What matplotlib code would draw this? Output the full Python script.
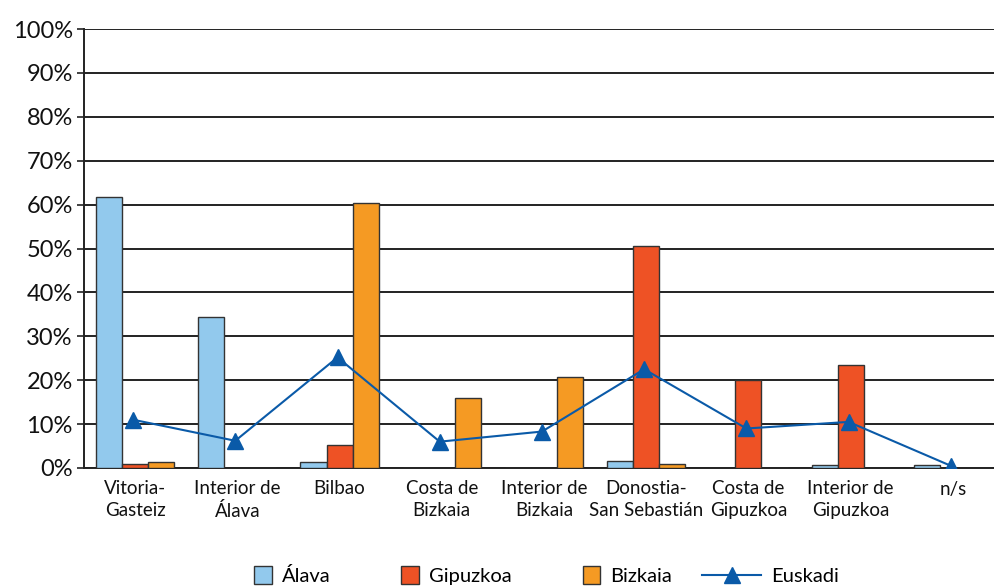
import matplotlib
matplotlib.use("Agg")
import matplotlib.pyplot as plt
import numpy as np
from matplotlib.patches import Rectangle
from matplotlib.lines import Line2D
from matplotlib.legend_handler import HandlerPatch

categories = ["Vitoria-\nGasteiz", "Interior de\nÁlava", "Bilbao", "Costa de\nBizkaia",
              "Interior de\nBizkaia", "Donostia-\nSan Sebastián", "Costa de\nGipuzkoa",
              "Interior de\nGipuzkoa", "n/s"]
alava = [61.7, 34.3, 1.4, 0.0, 0.0, 1.6, 0.0, 0.6, 0.6]
gipuzkoa = [0.8, 0.0, 5.2, 0.0, 0.0, 50.6, 20.0, 23.5, 0.0]
bizkaia = [1.4, 0.0, 60.3, 15.9, 20.8, 0.8, 0.0, 0.0, 0.0]
euskadi = [11.0, 6.2, 25.2, 6.0, 8.3, 22.5, 9.0, 10.5, 0.5]
yticks = [0, 10, 20, 30, 40, 50, 60, 70, 80, 90, 100]
ytick_labels = [f"{v}%" for v in yticks]

c_alava = "#92C9ED"
c_gip = "#EE5225"
c_biz = "#F59A23"
c_eus = "#0A5AA8"
edge = "#333333"

plt.rcParams['font.family'] = ['Lato', 'DejaVu Sans']

fig = plt.figure(figsize=(9.94, 5.86), dpi=100)
ax = fig.add_axes([84/994, 1-468/586, (1004-84)/994, (468-29)/586])

x = np.arange(len(categories))
w = 0.255
kw = dict(edgecolor=edge, linewidth=1.0, zorder=3)
ax.bar(x - w, alava, w, color=c_alava, label="Álava", **kw)
ax.bar(x, gipuzkoa, w, color=c_gip, label="Gipuzkoa", **kw)
ax.bar(x + w, bizkaia, w, color=c_biz, label="Bizkaia", **kw)
ax.plot(x - 0.02, euskadi, color=c_eus, lw=1.5, marker="^", markersize=12,
        markeredgecolor=c_eus, markerfacecolor=c_eus, zorder=5, label="Euskadi")

ax.set_xlim(-0.5, 8.5)
ax.set_ylim(0, 100)
ax.set_yticks(yticks)
ax.set_yticklabels(ytick_labels, fontsize=17, color="#111111")
ax.set_xticks(x)
ax.set_xticklabels(categories, fontsize=13.5, color="#111111", linespacing=1.3)
ax.tick_params(axis='x', length=0, pad=9)
ax.tick_params(axis='y', length=5, width=1.2, color="#222222", pad=3)
ax.yaxis.grid(True, color="#222222", linewidth=1.4, zorder=0)
ax.set_axisbelow(True)
for s in ["top", "right"]:
    ax.spines[s].set_visible(False)
ax.spines["left"].set_color("#222222")
ax.spines["left"].set_linewidth(1.4)
ax.spines["bottom"].set_color("#222222")
ax.spines["bottom"].set_linewidth(1.4)


class SquareHandler(HandlerPatch):
    def create_artists(self, legend, orig_handle, xdescent, ydescent, width, height, fontsize, trans):
        s = height * 1.25
        p = Rectangle((-xdescent + width - s, -ydescent + (height - s) / 2), s, s,
                      facecolor=orig_handle.get_facecolor(), edgecolor=edge, linewidth=1.0,
                      transform=trans)
        return [p]


handles = [Rectangle((0, 0), 1, 1, facecolor=c) for c in (c_alava, c_gip, c_biz)]
handles.append(Line2D([0], [0], color=c_eus, lw=1.5, marker="^", markersize=12,
                      markerfacecolor=c_eus, markeredgecolor=c_eus))
labels = ["Álava", "Gipuzkoa", "Bizkaia", "Euskadi"]
hmap = {h: SquareHandler() for h in handles[:3]}
fig.legend(handles, labels, handler_map=hmap, loc="center", bbox_to_anchor=(526/994, 1-576/586),
           ncol=4, frameon=False, fontsize=14.5, handlelength=2.9, handletextpad=0.5,
           columnspacing=1.5, borderpad=0)

fig.savefig("out.png", dpi=100)
